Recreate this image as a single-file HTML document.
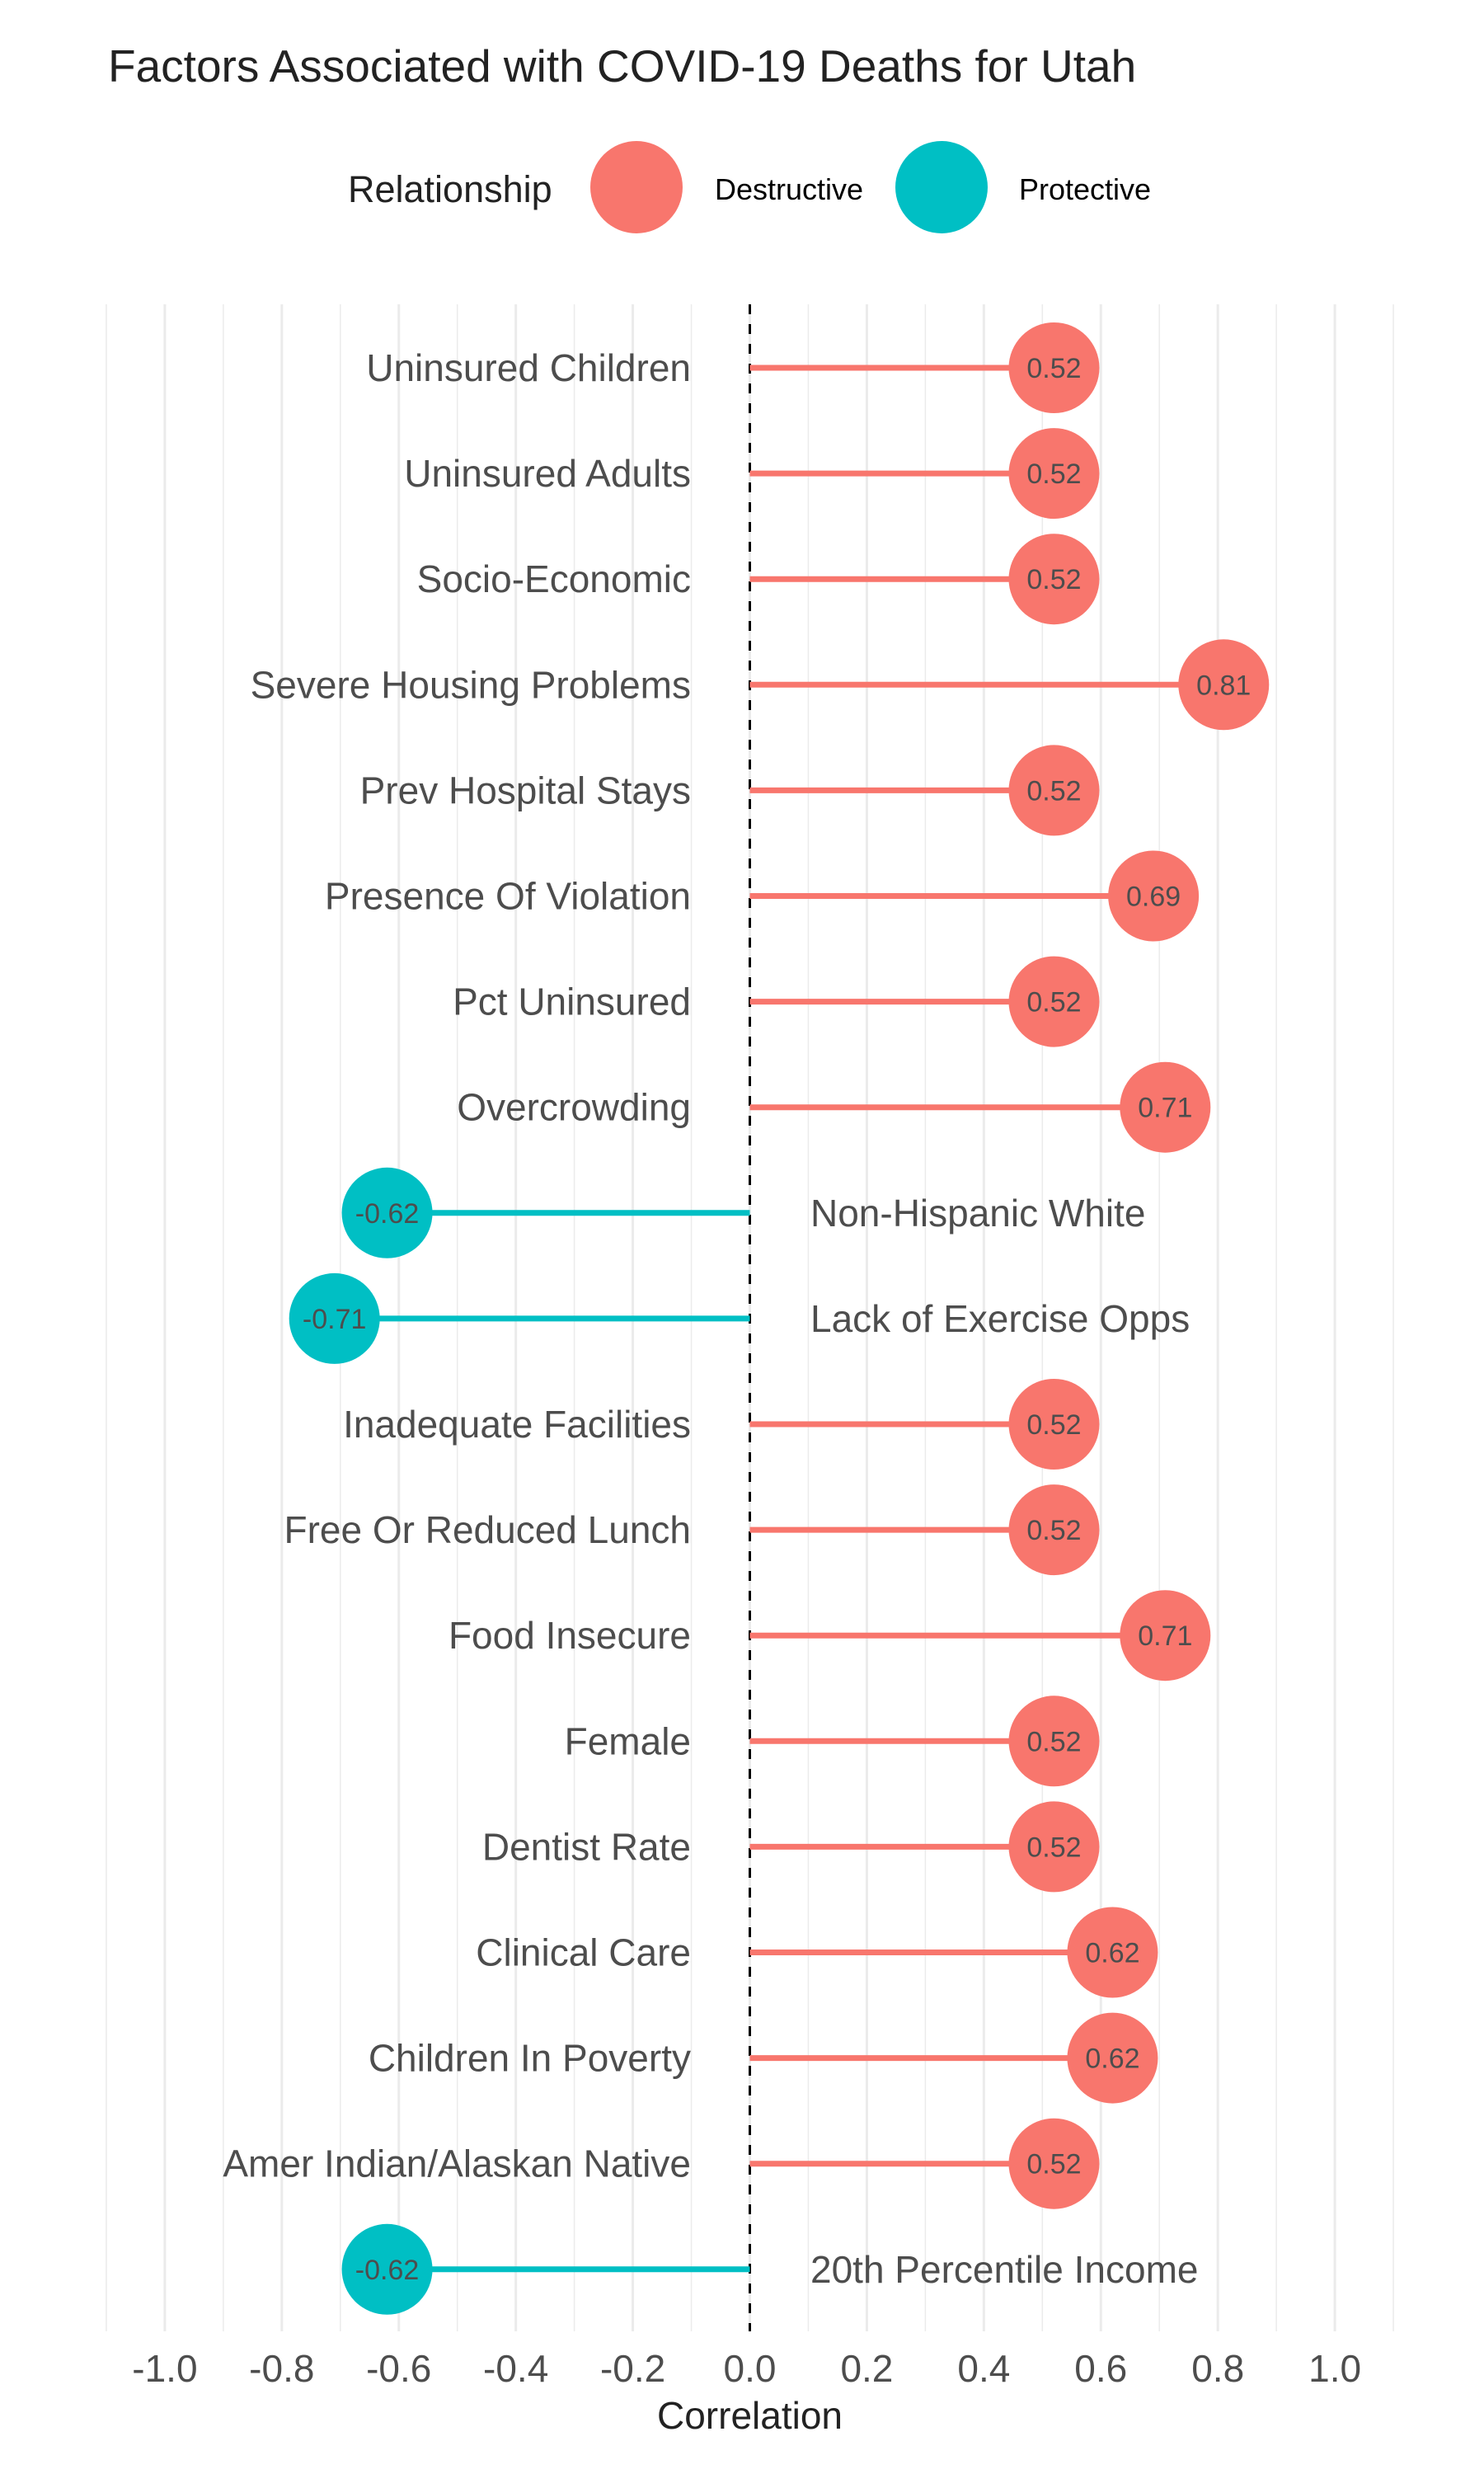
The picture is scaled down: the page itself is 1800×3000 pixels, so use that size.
<!DOCTYPE html>
<html><head><meta charset="utf-8"><style>html,body{margin:0;padding:0;background:#fff}svg{display:block}text{font-family:"Liberation Sans",sans-serif}</style></head>
<body>
<svg id="chart" width="1800" height="3000" viewBox="0 0 1800 3000" xmlns="http://www.w3.org/2000/svg">
<text x="131" y="99" font-size="55" fill="#222">Factors Associated with COVID-19 Deaths for Utah</text>
<g>
<text x="422" y="245" font-size="45" fill="#222">Relationship</text>
<circle cx="772" cy="227" r="56" fill="#F8766D"/>
<text x="867" y="242" font-size="36" fill="#000">Destructive</text>
<circle cx="1142" cy="227" r="56" fill="#00BFC4"/>
<text x="1236" y="242" font-size="36" fill="#000">Protective</text>
</g>
<g id="grid"></g>
<g id="marks"></g>
<g id="xaxis"></g>
<text x="909.5" y="2945" font-size="46" fill="#222" text-anchor="middle">Correlation</text>
</svg>
<script>
const categories = ["Uninsured Children","Uninsured Adults","Socio-Economic","Severe Housing Problems","Prev Hospital Stays","Presence Of Violation","Pct Uninsured","Overcrowding","Non-Hispanic White","Lack of Exercise Opps","Inadequate Facilities","Free Or Reduced Lunch","Food Insecure","Female","Dentist Rate","Clinical Care","Children In Poverty","Amer Indian/Alaskan Native","20th Percentile Income"];
const values = [0.52,0.52,0.52,0.81,0.52,0.69,0.52,0.71,-0.62,-0.71,0.52,0.52,0.71,0.52,0.52,0.62,0.62,0.52,-0.62];
const tickValues = [-1.0,-0.8,-0.6,-0.4,-0.2,0.0,0.2,0.4,0.6,0.8,1.0];
const tickLabels = ["-1.0","-0.8","-0.6","-0.4","-0.2","0.0","0.2","0.4","0.6","0.8","1.0"];

(function(){
const NS="http://www.w3.org/2000/svg";
const x = v => 909.5 + v*709.6;
const y = i => 446 + i*128.1;
const panelTop=369, panelBottom=2827;
function mk(tag, attrs, parent){const e=document.createElementNS(NS,tag);for(const k in attrs)e.setAttribute(k,attrs[k]);parent.appendChild(e);return e;}
const grid=document.getElementById('grid'), marks=document.getElementById('marks'), xaxis=document.getElementById('xaxis');
for(let k=-11;k<=11;k++){
  const v=k/10, major=(k%2===0);
  const l=mk('line',{x1:x(v),x2:x(v),y1:panelTop,y2:panelBottom,stroke:'#ebebeb','stroke-width':major?3:1.5},grid);
  
  
}
const z=mk('line',{x1:x(0),x2:x(0),y1:panelTop,y2:panelBottom,stroke:'#000','stroke-width':3,'stroke-dasharray':'12 12'},grid);


tickValues.forEach((v,i)=>{
  const t=mk('text',{x:x(v),y:2888,'font-size':46,fill:'#4d4d4d','text-anchor':'middle'},xaxis);
  t.textContent=tickLabels[i];
  
  
});
categories.forEach((c,i)=>{
  const v=values[i], col=v>=0?'#F8766D':'#00BFC4', cy=y(i);
  const g=mk('g',{},marks);
  
  
  const ln=mk('line',{x1:x(0),x2:x(v),y1:cy,y2:cy,stroke:col,'stroke-width':7},g);
  
  
  const ci=mk('circle',{cx:x(v),cy:cy,r:55,fill:col},g);
  
  
  const vt=mk('text',{x:x(v),y:cy+12,'font-size':34,fill:'#4d4d4d','text-anchor':'middle'},g);
  vt.textContent=v.toFixed(2);
  
  
  const lt=mk('text',{x:v>=0?838:983,y:cy+16,'font-size':46,fill:'#4d4d4d','text-anchor':v>=0?'end':'start'},g);
  lt.textContent=c;
  
  
});
})();
</script>
</body></html>
